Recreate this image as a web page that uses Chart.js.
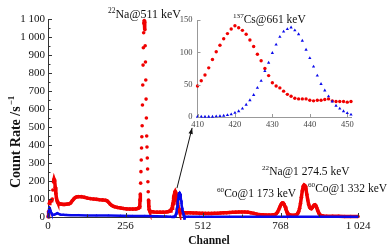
<!DOCTYPE html>
<html>
<head>
<meta charset="utf-8">
<script src="https://cdn.jsdelivr.net/npm/chart.js@4.4.0/dist/chart.umd.min.js"></script>
<style>
  html, body { margin: 0; padding: 0; background: #fff; }
  #wrap { position: relative; width: 392px; height: 251px; }
  #main { position: absolute; left: 0; top: 0; }
  #inset { position: absolute; left: 165px; top: 8px; }
</style>
</head>
<body>
<div id="wrap">
  <canvas id="main" width="392" height="251" style="width:392px;height:251px"></canvas>
  <canvas id="inset" width="195" height="125" style="width:195px;height:125px"></canvas>
</div>
<script>
// spectrum, red (Na + Cs source), channels below the zoomed window
const redLowChannels = [0,2,4,6,8,10,12,14,16,18,20,22,24,26,28,30,32,35,38,42,46,50,55,60,65,70,75,80,85,90,95,100,110,120,130,140,150,160,170,180,190,195,200,205,210,215,220,230,240,250,260,270,280,290,296,300,302,303,304,305,306,307,308,309,310,311,312,313,314,315,316,317,318,319,320,321,322,323,324,325,326,327,328,329,330,331,332,333,334,336,340,345,350,360,370,380,390,396,400,403,406,408];
const redLowCounts = [2,30,75,85,88,90,92,100,150,195,210,200,165,130,105,90,82,76,73,72,71,70,70,71,72,73,78,90,100,108,112,113,113,110,105,102,100,98,96,95,93,90,82,72,65,60,57,53,50,47,45,44,44,45,47,50,55,60,94,128,188,252,317,383,446,507,622,733,844,940,1024,1075,1092,1080,1040,951,861,761,655,550,450,389,328,267,196,140,94,60,42,33,30,29,28,27,27,27,28,29,31,34,39,44];
// red, channels above the zoomed window
const redHighChannels = [455,460,470,480,490,500,510,520,530,540,550,560,570,580,590,600,610,620,630,640,650,660,670,680,690,700,710,720,730,740,745,750,754,758,762,765,768,771,774,777,780,783,786,789,792,796,800,806,812,818,822,825,828,831,834,837,840,843,846,849,852,855,858,861,864,867,870,873,876,879,882,885,888,891,894,897,900,905,910,920,940,960,980,1000,1024];
const redHighCounts = [24,23,23,22,22,21,21,20,20,20,21,21,22,23,24,25,26,27,28,28,28,27,24,20,16,13,12,11,11,11,12,14,18,27,40,52,64,73,78,77,70,58,43,30,21,14,11,10,10,11,14,20,30,48,75,110,145,170,178,174,155,125,95,70,55,48,46,52,60,66,68,62,50,36,24,15,10,6,5,4,4,4,3,3,3];

// blue (Cs source)
const blueLowChannels = [0,2,4,5,6,8,10,12,14,17,20,24,28,31,34,38,42,50,60,75,100,130,160,200,240,280,320,360,390,405];
const blueLowCounts = [0,25,50,55,50,38,27,19,15,13,13,15,19,21,18,15,13,12,11,10,10,9,9,8,7,6,5,4,3,1];
const blueHighChannels = [452,455,465,500,600,700,800,900,1000,1024];
const blueHighCounts = [2.5,2,2,2,2,2,2,2,2,2];

// zoomed window around the 137Cs peak (shown in the inset)
const zoomChannels = [410,411,412,413,414,415,416,417,418,419,420,421,422,423,424,425,426,427,428,429,430,431,432,433,434,435,436,437,438,439,440,441,442,443,444,445,446,447,448,449,450,451];
const zoomRed = [48,56,65,76,89,101,111,121,129,136,141,138,134,128,119,109,97,87,75,64,53,48,45,40,35,32,29,28,28,28,26,25,26,26,27,28,25,24,24,24,23,24];
const zoomBlue = [0.5,0.5,0.5,0.5,0.5,1,1.5,2,3,4,6.5,9,13,19,26,34,45,56,71,84,99,112,124,132,136,138.5,134,128,118,104,91,78,64,51,41,32,24,17.5,13,9,6,3.6];

// axis ticks
const xTickValues = [0,256,512,768,1024];
const xTickLabels = ['0','256','512','768','1 024'];
const xMinorTicks = [128,384,640,896];
const yTickValues = [0,100,200,300,400,500,600,700,800,900,1000,1100];
const yTickLabels = ['0','100','200','300','400','500','600','700','800','900','1 000','1 100'];
const yMinorTicks = [50,150,250,350,450,550,650,750,850,950,1050];
const insetXTicks = [410,420,430,440,450];
const insetYTicks = [0,50,100,150];

const RED = 'rgb(240,0,0)';
const BLUE = 'rgb(10,10,235)';
const SERIF = '"Liberation Serif", "Times New Roman", serif';
Chart.defaults.font.family = SERIF;
Chart.defaults.color = '#111';

const toPts = (xs, ys) => xs.map((x, i) => ({ x: x, y: ys[i] }));
const mainRed = toPts(redLowChannels, redLowCounts).concat(toPts(zoomChannels, zoomRed), toPts(redHighChannels, redHighCounts));
const mainBlue = toPts(blueLowChannels, blueLowCounts).concat(toPts(zoomChannels, zoomBlue), toPts(blueHighChannels, blueHighCounts));

function isotope(ctx, mass, rest, x, base, size) {
  ctx.font = (size * 0.62) + 'px ' + SERIF;
  ctx.fillText(mass, x, base - size * 0.4);
  const w = ctx.measureText(mass).width;
  ctx.font = size + 'px ' + SERIF;
  ctx.fillText(rest, x + w, base);
}

const mainDecor = {
  id: 'mainDecor',
  afterDraw(chart) {
    const { ctx, scales: { x, y } } = chart;
    const left = chart.chartArea.left, bottom = chart.chartArea.bottom;
    ctx.save();
    ctx.strokeStyle = '#333';
    ctx.lineWidth = 1;
    ctx.beginPath();
    yTickValues.forEach(v => { const p = Math.round(y.getPixelForValue(v)) + 0.5; ctx.moveTo(left, p); ctx.lineTo(left + 4, p); });
    yMinorTicks.forEach(v => { const p = Math.round(y.getPixelForValue(v)) + 0.5; ctx.moveTo(left, p); ctx.lineTo(left + 2.5, p); });
    xTickValues.forEach(v => { const p = Math.round(x.getPixelForValue(v)) + 0.5; ctx.moveTo(p, bottom); ctx.lineTo(p, bottom - 4); });
    xMinorTicks.forEach(v => { const p = Math.round(x.getPixelForValue(v)) + 0.5; ctx.moveTo(p, bottom); ctx.lineTo(p, bottom - 2.5); });
    ctx.stroke();

    // arrow from the 137Cs peak up to the inset
    const x0 = x.getPixelForValue(426), y0 = y.getPixelForValue(160);
    const x1 = x.getPixelForValue(476), y1 = y.getPixelForValue(495);
    const a = Math.atan2(y1 - y0, x1 - x0);
    ctx.strokeStyle = '#111';
    ctx.fillStyle = '#111';
    ctx.beginPath(); ctx.moveTo(x0, y0); ctx.lineTo(x1, y1); ctx.stroke();
    ctx.beginPath();
    ctx.moveTo(x1, y1);
    ctx.lineTo(x1 - 6 * Math.cos(a) + 2.2 * Math.sin(a), y1 - 6 * Math.sin(a) - 2.2 * Math.cos(a));
    ctx.lineTo(x1 - 6 * Math.cos(a) - 2.2 * Math.sin(a), y1 - 6 * Math.sin(a) + 2.2 * Math.cos(a));
    ctx.closePath(); ctx.fill();

    // peak labels
    ctx.fillStyle = '#111';
    ctx.textBaseline = 'alphabetic';
    ctx.textAlign = 'left';
    isotope(ctx, '22', 'Na@511 keV', 108, 18, 12);
    isotope(ctx, '137', 'Cs@661 keV', 233, 23, 11.5);
    isotope(ctx, '22', 'Na@1 274.5 keV', 262, 175, 11.5);
    isotope(ctx, '60', 'Co@1 173 keV', 217, 197, 11.5);
    isotope(ctx, '60', 'Co@1 332 keV', 308, 192, 11.5);

    // axis titles
    ctx.font = 'bold 11.5px ' + SERIF;
    ctx.textAlign = 'center';
    ctx.fillText('Channel', 209, 244);
    ctx.translate(20, 188);
    ctx.rotate(-Math.PI / 2);
    ctx.textAlign = 'left';
    ctx.font = 'bold 14px ' + SERIF;
    ctx.fillText('Count Rate /s', 0, 0);
    const tw = ctx.measureText('Count Rate /s').width;
    ctx.font = 'bold 9px ' + SERIF;
    ctx.fillText('\u22121', tw + 1, -6);
    ctx.restore();
  }
};

new Chart(document.getElementById('main'), {
  type: 'scatter',
  data: {
    datasets: [
      {
        label: 'Cs',
        data: mainBlue,
        showLine: true,
        borderColor: BLUE,
        borderWidth: 2.5,
        backgroundColor: BLUE,
        pointStyle: 'triangle',
        pointRadius: 1.5,
        pointBorderWidth: 0,
        clip: 3
      },
      {
        label: 'Na + Cs',
        data: mainRed,
        showLine: true,
        borderColor: RED,
        borderWidth: 3.5,
        backgroundColor: RED,
        pointRadius: 1.8,
        pointBorderWidth: 0,
        clip: 3,
        segment: {
          borderColor: c => Math.abs(c.p1.y - c.p0.y) > 8 ? 'transparent' : RED
        }
      }
    ]
  },
  options: {
    responsive: false,
    animation: false,
    layout: { padding: { top: 19, right: 34, left: 0, bottom: 0 } },
    plugins: { legend: { display: false }, tooltip: { enabled: false } },
    scales: {
      x: {
        type: 'linear', min: 0, max: 1024,
        afterBuildTicks: s => { s.ticks = xTickValues.map(v => ({ value: v })); },
        afterFit: s => { s.height = 34; },
        grid: { display: false, drawTicks: false },
        border: { color: '#333', width: 1 },
        ticks: { padding: 3, font: { size: 11 }, color: '#111', maxRotation: 0, callback: (v, i) => xTickLabels[i] }
      },
      y: {
        type: 'linear', min: 0, max: 1100,
        afterBuildTicks: s => { s.ticks = yTickValues.map(v => ({ value: v })); },
        afterFit: s => { s.width = 48; },
        grid: { display: false, drawTicks: false },
        border: { color: '#333', width: 1 },
        ticks: { padding: 3, font: { size: 11 }, color: '#111', callback: (v, i) => yTickLabels[i] }
      }
    }
  },
  plugins: [mainDecor]
});

const insetDecor = {
  id: 'insetDecor',
  afterDraw(chart) {
    const { ctx, scales: { x, y } } = chart;
    const left = chart.chartArea.left, bottom = chart.chartArea.bottom;
    ctx.save();
    ctx.strokeStyle = '#999';
    ctx.lineWidth = 1;
    ctx.beginPath();
    insetYTicks.forEach(v => { const p = Math.round(y.getPixelForValue(v)) + 0.5; ctx.moveTo(left, p); ctx.lineTo(left + 3, p); });
    insetXTicks.forEach(v => { const p = Math.round(x.getPixelForValue(v)) + 0.5; ctx.moveTo(p, bottom); ctx.lineTo(p, bottom - 3); });
    ctx.stroke();
    ctx.restore();
  }
};

new Chart(document.getElementById('inset'), {
  type: 'scatter',
  data: {
    datasets: [
      {
        label: 'Cs',
        data: toPts(zoomChannels, zoomBlue),
        backgroundColor: BLUE,
        pointStyle: 'triangle',
        pointRadius: 1.9,
        pointBorderWidth: 0,
        clip: 3
      },
      {
        label: 'Na + Cs',
        data: toPts(zoomChannels, zoomRed),
        backgroundColor: RED,
        pointRadius: 1.7,
        pointBorderWidth: 0,
        clip: 3
      }
    ]
  },
  options: {
    responsive: false,
    animation: false,
    layout: { padding: { top: 12, right: 9, left: 0, bottom: 0 } },
    plugins: { legend: { display: false }, tooltip: { enabled: false } },
    scales: {
      x: {
        type: 'linear', min: 410, max: 451,
        afterBuildTicks: s => { s.ticks = insetXTicks.map(v => ({ value: v })); },
        afterFit: s => { s.height = 16; },
        grid: { display: false, drawTicks: false },
        border: { color: '#999', width: 1 },
        ticks: { padding: 3, font: { size: 8.5 }, color: '#444', maxRotation: 0 }
      },
      y: {
        type: 'linear', min: 0, max: 150,
        afterBuildTicks: s => { s.ticks = insetYTicks.map(v => ({ value: v })); },
        afterFit: s => { s.width = 32.5; },
        grid: { display: false, drawTicks: false },
        border: { color: '#999', width: 1 },
        ticks: { padding: 5, font: { size: 8.5 }, color: '#444' }
      }
    }
  },
  plugins: [insetDecor]
});
</script>
</body>
</html>
